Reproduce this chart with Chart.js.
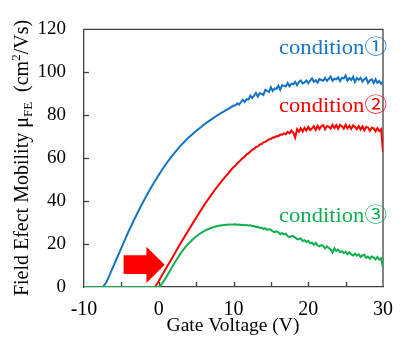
<!DOCTYPE html>
<html><head><meta charset="utf-8">
<script src="https://cdn.jsdelivr.net/npm/chart.js@4.4.1/dist/chart.umd.min.js"></script>
<style>html,body{margin:0;padding:0;background:#fff;overflow:hidden}#wrap{width:404px;height:338px;position:relative}</style>
</head><body><div id="wrap"><canvas id="c" width="404" height="338"></canvas></div>
<script>
// ---------- data ----------
const gateVoltage = [
 -10,-9.5,-9,-8.5,-8,-7.5,-7,-6.5,-6,-5.5,-5,-4.5,-4,-3.5,-3,-2.5,-2,-1.5,-1,-0.5,
 0,0.5,1,1.5,2,2.5,3,3.5,4,4.5,5,5.5,6,6.5,7,7.5,8,8.5,9,9.5,
 10,10.25,10.5,10.75,11,11.25,11.5,11.75,12,12.25,12.5,12.75,13,13.25,13.5,13.75,14,14.25,14.5,14.75,
 15,15.25,15.5,15.75,16,16.25,16.5,16.75,17,17.25,17.5,17.75,18,18.25,18.5,18.75,19,19.25,19.5,19.75,
 20,20.25,20.5,20.75,21,21.25,21.5,21.75,22,22.25,22.5,22.75,23,23.25,23.5,23.75,24,24.25,24.5,24.75,
 25,25.25,25.5,25.75,26,26.25,26.5,26.75,27,27.25,27.5,27.75,28,28.25,28.5,28.75,29,29.25,29.5,29.75,
 30
];
const condition1 = [
 0,0,0,0,0,0,2.2,6.2,10.2,14.2,18.2,22.2,26.2,29.8,33.4,36.9,40.2,43.4,46.5,49.4,
 52.2,54.9,57.4,59.8,62.0,64.1,66.1,67.9,69.6,71.2,72.7,74.1,75.5,76.8,78.0,79.2,80.3,81.4,82.4,83.3,
 84.5,84.5,85.6,85.0,86.1,87.2,86.2,87.5,87.3,89.1,88.0,89.1,90.4,88.7,90.3,90.1,89.5,91.8,91.4,90.9,
 93.1,91.3,92.5,92.3,93.8,91.9,93.9,93.8,93.4,95.1,93.5,94.7,94.5,95.6,94.0,95.5,96.2,94.8,95.3,96.2,
 94.9,96.1,97.1,95.6,96.3,95.2,96.9,96.4,96.1,97.4,96.0,97.0,98.1,96.1,97.0,96.7,97.7,95.9,97.5,97.1,
 98.5,96.1,97.3,96.4,97.9,95.5,97.3,96.5,97.5,95.7,96.8,97.4,95.0,96.3,96.7,95.0,96.8,95.1,95.9,94.6,
 95.6
];
const condition2 = [
 0,0,0,0,0,0,0,0,0,0,0,0,0,0,0,0,0,0,0,0,
 2.8,5.8,8.8,11.8,14.8,17.8,20.8,23.7,26.6,29.4,32.2,35.0,37.7,40.3,42.8,45.2,47.5,49.7,51.8,53.8,
 55.8,56.5,57.7,58.3,59.3,60.1,60.7,61.8,62.2,63.1,63.9,64.3,65.2,65.5,66.3,66.6,67.4,67.6,68.2,68.8,
 68.9,69.6,69.6,70.3,70.2,71.0,70.9,71.6,71.2,72.3,71.6,72.9,71.8,69.6,73.5,72.3,73.9,72.4,74.2,72.9,
 74.6,73.1,73.9,75.0,73.2,75.1,73.6,74.9,75.4,73.5,75.0,74.6,73.8,75.5,74.0,75.4,73.7,75.6,74.9,73.8,
 75.6,73.9,75.1,73.6,75.3,74.6,73.5,75.0,73.4,74.8,72.9,74.6,74.3,72.8,74.2,73.9,72.5,74.0,72.6,73.5,
 63.0
];
const condition3 = [
 0,0,0,0,0,0,0,0,0,0,0,0,0,0,0,0,0,0,0,0,
 0,1.8,4.6,7.6,10.6,13.4,16.0,18.3,20.3,22.0,23.5,24.8,25.9,26.8,27.5,28.1,28.5,28.8,29.0,29.1,
 29.1,29.2,29.0,29.1,28.9,29.0,28.8,28.9,28.6,28.7,28.3,28.4,28.0,28.1,27.5,27.7,27.0,27.4,26.6,26.9,
 26.7,25.9,25.5,25.9,25.5,24.6,25.2,24.5,24.8,23.7,23.2,23.7,23.6,23.0,22.2,22.2,22.7,21.4,21.8,21.0,
 21.5,20.4,20.7,19.6,20.6,19.4,18.9,19.5,19.2,18.0,18.9,18.2,17.5,16.0,18.0,16.8,17.4,16.2,16.7,15.8,
 16.4,15.3,16.2,15.2,14.7,15.5,14.6,15.3,14.0,14.7,15.0,13.6,14.2,13.1,14.3,13.7,12.8,14.0,12.8,13.4,
 9.0
];
const seriesLabels = ['condition①','condition②','condition③'];
const xMinorTicks = [-5,0,5,10,15,20,25];
const yMinorTicks = [20,40,60,80,100];
const xTitle = 'Gate Voltage (V)';

// ---------- style ----------
const BLUE = '#1475c6', RED = '#ff0000', GREEN = '#10b050', AXIS = '#404040';
const SERIF = '"Liberation Serif", "Times New Roman", serif';
const pts = arr => gateVoltage.map((v, i) => ({x: v, y: arr[i]}));

const decor = {
  id: 'decor',
  beforeDatasetsDraw(chart) {
    const {ctx, chartArea: a, scales: {x, y}} = chart;
    ctx.save();
    ctx.strokeStyle = AXIS; ctx.lineWidth = 1.3;
    xMinorTicks.forEach(v => { const p = Math.round(x.getPixelForValue(v)) + 0.5;
      ctx.beginPath(); ctx.moveTo(p, a.bottom); ctx.lineTo(p, a.bottom - 5); ctx.stroke(); });
    yMinorTicks.forEach(v => { const p = Math.round(y.getPixelForValue(v)) + 0.5;
      ctx.beginPath(); ctx.moveTo(a.left, p); ctx.lineTo(a.left + 5, p); ctx.stroke(); });
    ctx.beginPath(); ctx.moveTo(a.left, a.top); ctx.lineTo(a.right, a.top); ctx.lineTo(a.right, a.bottom); ctx.stroke();
    // arrow annotation
    const X = v => x.getPixelForValue(v), Y = v => y.getPixelForValue(v);
    ctx.fillStyle = RED;
    ctx.beginPath();
    ctx.moveTo(X(-4.7), Y(14.8)); ctx.lineTo(X(-1.65), Y(14.8)); ctx.lineTo(X(-1.65), Y(18.7));
    ctx.lineTo(X(0.8), Y(10.4)); ctx.lineTo(X(-1.65), Y(1.9)); ctx.lineTo(X(-1.65), Y(6.0));
    ctx.lineTo(X(-4.7), Y(6.0)); ctx.closePath(); ctx.fill();
    ctx.restore();
  },
  afterDraw(chart) {
    const {ctx} = chart;
    ctx.save();
    const baselines = [54.3, 111.7, 222.3];
    const colors = [BLUE, RED, GREEN];
    ctx.font = '20px ' + SERIF + ', "Noto Sans CJK JP"';
    seriesLabels.forEach((t, i) => {
      const w = ctx.measureText(t).width;
      const sx = 108 / w;
      ctx.save(); ctx.translate(387, baselines[i]); ctx.scale(sx, 1);
      ctx.fillStyle = colors[i]; ctx.textAlign = 'right'; ctx.textBaseline = 'alphabetic';
      ctx.fillText(t, 0, 0); ctx.restore();
    });
    ctx.fillStyle = '#000'; ctx.textAlign = 'center'; ctx.textBaseline = 'alphabetic';
    ctx.font = '19.5px ' + SERIF;
    ctx.fillText(xTitle, 233, 330.7);
    const parts = [
      {t: 'Field Efect Mobility ', s: 20, dy: 0},
      {t: 'μ', s: 20, dy: 0},
      {t: 'FE', s: 13, dy: 4},
      {t: '  (cm', s: 20, dy: 0},
      {t: '2', s: 13, dy: -8},
      {t: '/Vs)', s: 20, dy: 0}
    ];
    let total = 0;
    parts.forEach(p => { ctx.font = p.s + 'px ' + SERIF; p.w = ctx.measureText(p.t).width; total += p.w; });
    ctx.translate(28, 158); ctx.rotate(-Math.PI / 2);
    ctx.textAlign = 'left';
    let cx = -total / 2;
    parts.forEach(p => { ctx.font = p.s + 'px ' + SERIF; ctx.fillText(p.t, cx, p.dy); cx += p.w; });
    ctx.restore();
  }
};

const ds = (label, arr, color) => ({label, data: pts(arr), borderColor: color, backgroundColor: color,
  borderWidth: 2, pointRadius: 0, tension: 0, fill: false});

new Chart(document.getElementById('c'), {
  type: 'line',
  data: {datasets: [ds(seriesLabels[2], condition3, GREEN), ds(seriesLabels[1], condition2, RED), ds(seriesLabels[0], condition1, BLUE)]},
  options: {
    responsive: false, animation: false, devicePixelRatio: 1,
    layout: {padding: {top: 19, right: 11, left: 0, bottom: 0}},
    plugins: {legend: {display: false}, tooltip: {enabled: false}},
    scales: {
      x: {type: 'linear', min: -10, max: 30,
          ticks: {stepSize: 10, color: '#000', font: {family: SERIF, size: 20}, padding: 11, maxRotation: 0},
          grid: {display: false, drawTicks: false}, border: {display: true, color: AXIS, width: 1.3},
          afterFit(s) { s.height = 51; }},
      y: {min: 0, max: 120,
          ticks: {stepSize: 20, color: '#000', font: {family: SERIF, size: 19}, padding: 18},
          grid: {display: false, drawTicks: false}, border: {display: true, color: AXIS, width: 1.3},
          afterFit(s) { s.width = 84; }}
    }
  },
  plugins: [decor]
});
</script></body></html>
